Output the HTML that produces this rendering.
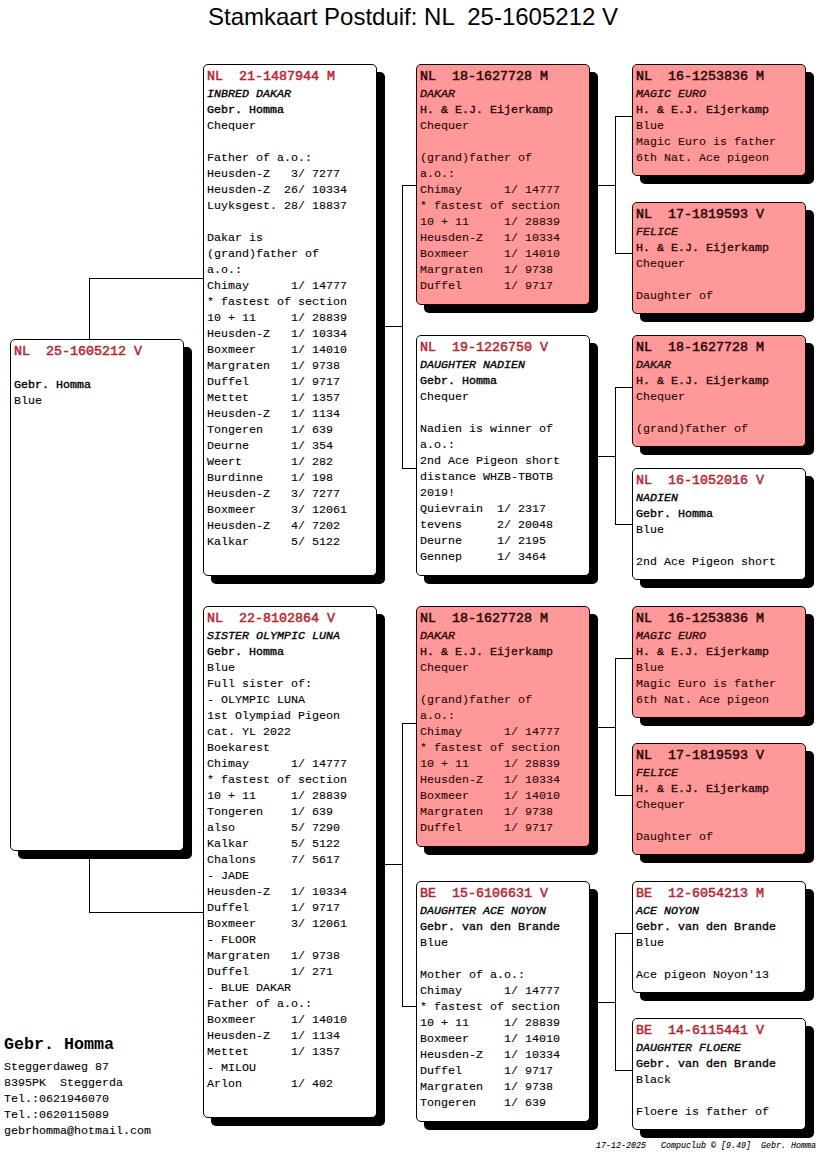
<!DOCTYPE html>
<html><head><meta charset="utf-8"><title>Stamkaart</title><style>
html,body{margin:0;padding:0;background:#fff;}
body{width:816px;height:1172px;position:relative;overflow:hidden;font-family:"Liberation Mono",monospace;color:#000;}
.t{position:absolute;left:208px;top:3px;font-family:"Liberation Sans",sans-serif;font-size:24px;line-height:normal;white-space:pre;}
.b{position:absolute;width:174px;box-sizing:border-box;border:1px solid #000;border-radius:5px;box-shadow:8px 8px 0 0 #000;background:#fff;padding:4px 0 0 3px;overflow:hidden;z-index:2;}
.b.p{background:#ff9999;}
.l{font-size:11.667px;line-height:16px;height:16px;white-space:pre;-webkit-text-stroke:0.1px currentColor;}
.l.r{font-size:13.333px;font-weight:normal;-webkit-text-stroke:0.4px currentColor;color:#b3262f;height:17px;line-height:16px;}
.p .l.r{color:#2a0606;-webkit-text-stroke:0.5px #2a0606;}
.b:not(.p) .l.r{-webkit-text-stroke:0.5px currentColor;}
.p{color:#2a0606;border-color:#1a0202 !important;}
.p .l.n,.p .l.k{-webkit-text-stroke-color:#2a0606;}
.l.n{font-style:italic;-webkit-text-stroke:0.35px #000;}
.l.k{-webkit-text-stroke:0.35px #000;}
.hl{position:absolute;height:1px;background:#000;z-index:1;}
.vl{position:absolute;width:1px;background:#000;z-index:1;}
.addr{position:absolute;left:4px;top:1035px;}
.addr .big{font-size:16.667px;font-weight:bold;line-height:20px;height:24px;}
.addr .l{}
.foot{position:absolute;left:596px;top:1140px;font-size:8.333px;font-style:italic;font-weight:normal;-webkit-text-stroke:0.1px #000;white-space:pre;line-height:12px;}
</style></head>
<body>
<div class="t">Stamkaart Postduif: NL  25-1605212 V</div>
<div class="vl" style="left:89px;top:278px;height:635px"></div>
<div class="hl" style="left:89px;top:278px;width:115px"></div>
<div class="hl" style="left:89px;top:912px;width:115px"></div>
<div class="hl" style="left:376px;top:326px;width:27px"></div>
<div class="vl" style="left:402px;top:185px;height:284px"></div>
<div class="hl" style="left:402px;top:185px;width:15px"></div>
<div class="hl" style="left:402px;top:468px;width:15px"></div>
<div class="hl" style="left:376px;top:864px;width:27px"></div>
<div class="vl" style="left:402px;top:723px;height:284px"></div>
<div class="hl" style="left:402px;top:723px;width:15px"></div>
<div class="hl" style="left:402px;top:1006px;width:15px"></div>
<div class="hl" style="left:589px;top:185px;width:27px"></div>
<div class="vl" style="left:615px;top:116px;height:138px"></div>
<div class="hl" style="left:615px;top:116px;width:18px"></div>
<div class="hl" style="left:615px;top:253px;width:18px"></div>
<div class="hl" style="left:589px;top:456px;width:27px"></div>
<div class="vl" style="left:615px;top:387px;height:138px"></div>
<div class="hl" style="left:615px;top:387px;width:18px"></div>
<div class="hl" style="left:615px;top:524px;width:18px"></div>
<div class="hl" style="left:589px;top:727px;width:27px"></div>
<div class="vl" style="left:615px;top:658px;height:138px"></div>
<div class="hl" style="left:615px;top:658px;width:18px"></div>
<div class="hl" style="left:615px;top:795px;width:18px"></div>
<div class="hl" style="left:589px;top:1002px;width:27px"></div>
<div class="vl" style="left:615px;top:933px;height:138px"></div>
<div class="hl" style="left:615px;top:933px;width:18px"></div>
<div class="hl" style="left:615px;top:1070px;width:18px"></div>
<div class="b" style="left:10px;top:339px;height:512px">
<div class="l r">NL&#160;&#160;25-1605212&#160;V</div>
<div class="l n">&#160;</div>
<div class="l k">Gebr.&#160;Homma</div>
<div class="l">Blue</div>
</div>
<div class="b" style="left:203px;top:64px;height:512px">
<div class="l r">NL&#160;&#160;21-1487944&#160;M</div>
<div class="l n">INBRED&#160;DAKAR</div>
<div class="l k">Gebr.&#160;Homma</div>
<div class="l">Chequer</div>
<div class="l">&#160;</div>
<div class="l">Father&#160;of&#160;a.o.:</div>
<div class="l">Heusden-Z&#160;&#160;&#160;3/&#160;7277</div>
<div class="l">Heusden-Z&#160;&#160;26/&#160;10334</div>
<div class="l">Luyksgest.&#160;28/&#160;18837</div>
<div class="l">&#160;</div>
<div class="l">Dakar&#160;is</div>
<div class="l">(grand)father&#160;of</div>
<div class="l">a.o.:</div>
<div class="l">Chimay&#160;&#160;&#160;&#160;&#160;&#160;1/&#160;14777</div>
<div class="l">*&#160;fastest&#160;of&#160;section</div>
<div class="l">10&#160;+&#160;11&#160;&#160;&#160;&#160;&#160;1/&#160;28839</div>
<div class="l">Heusden-Z&#160;&#160;&#160;1/&#160;10334</div>
<div class="l">Boxmeer&#160;&#160;&#160;&#160;&#160;1/&#160;14010</div>
<div class="l">Margraten&#160;&#160;&#160;1/&#160;9738</div>
<div class="l">Duffel&#160;&#160;&#160;&#160;&#160;&#160;1/&#160;9717</div>
<div class="l">Mettet&#160;&#160;&#160;&#160;&#160;&#160;1/&#160;1357</div>
<div class="l">Heusden-Z&#160;&#160;&#160;1/&#160;1134</div>
<div class="l">Tongeren&#160;&#160;&#160;&#160;1/&#160;639</div>
<div class="l">Deurne&#160;&#160;&#160;&#160;&#160;&#160;1/&#160;354</div>
<div class="l">Weert&#160;&#160;&#160;&#160;&#160;&#160;&#160;1/&#160;282</div>
<div class="l">Burdinne&#160;&#160;&#160;&#160;1/&#160;198</div>
<div class="l">Heusden-Z&#160;&#160;&#160;3/&#160;7277</div>
<div class="l">Boxmeer&#160;&#160;&#160;&#160;&#160;3/&#160;12061</div>
<div class="l">Heusden-Z&#160;&#160;&#160;4/&#160;7202</div>
<div class="l">Kalkar&#160;&#160;&#160;&#160;&#160;&#160;5/&#160;5122</div>
</div>
<div class="b" style="left:203px;top:606px;height:512px">
<div class="l r">NL&#160;&#160;22-8102864&#160;V</div>
<div class="l n">SISTER&#160;OLYMPIC&#160;LUNA</div>
<div class="l k">Gebr.&#160;Homma</div>
<div class="l">Blue</div>
<div class="l">Full&#160;sister&#160;of:</div>
<div class="l">-&#160;OLYMPIC&#160;LUNA</div>
<div class="l">1st&#160;Olympiad&#160;Pigeon</div>
<div class="l">cat.&#160;YL&#160;2022</div>
<div class="l">Boekarest</div>
<div class="l">Chimay&#160;&#160;&#160;&#160;&#160;&#160;1/&#160;14777</div>
<div class="l">*&#160;fastest&#160;of&#160;section</div>
<div class="l">10&#160;+&#160;11&#160;&#160;&#160;&#160;&#160;1/&#160;28839</div>
<div class="l">Tongeren&#160;&#160;&#160;&#160;1/&#160;639</div>
<div class="l">also&#160;&#160;&#160;&#160;&#160;&#160;&#160;&#160;5/&#160;7290</div>
<div class="l">Kalkar&#160;&#160;&#160;&#160;&#160;&#160;5/&#160;5122</div>
<div class="l">Chalons&#160;&#160;&#160;&#160;&#160;7/&#160;5617</div>
<div class="l">-&#160;JADE</div>
<div class="l">Heusden-Z&#160;&#160;&#160;1/&#160;10334</div>
<div class="l">Duffel&#160;&#160;&#160;&#160;&#160;&#160;1/&#160;9717</div>
<div class="l">Boxmeer&#160;&#160;&#160;&#160;&#160;3/&#160;12061</div>
<div class="l">-&#160;FLOOR</div>
<div class="l">Margraten&#160;&#160;&#160;1/&#160;9738</div>
<div class="l">Duffel&#160;&#160;&#160;&#160;&#160;&#160;1/&#160;271</div>
<div class="l">-&#160;BLUE&#160;DAKAR</div>
<div class="l">Father&#160;of&#160;a.o.:</div>
<div class="l">Boxmeer&#160;&#160;&#160;&#160;&#160;1/&#160;14010</div>
<div class="l">Heusden-Z&#160;&#160;&#160;1/&#160;1134</div>
<div class="l">Mettet&#160;&#160;&#160;&#160;&#160;&#160;1/&#160;1357</div>
<div class="l">-&#160;MILOU</div>
<div class="l">Arlon&#160;&#160;&#160;&#160;&#160;&#160;&#160;1/&#160;402</div>
</div>
<div class="b p" style="left:416px;top:64px;height:241px">
<div class="l r">NL&#160;&#160;18-1627728&#160;M</div>
<div class="l n">DAKAR</div>
<div class="l k">H.&#160;&amp;&#160;E.J.&#160;Eijerkamp</div>
<div class="l">Chequer</div>
<div class="l">&#160;</div>
<div class="l">(grand)father&#160;of</div>
<div class="l">a.o.:</div>
<div class="l">Chimay&#160;&#160;&#160;&#160;&#160;&#160;1/&#160;14777</div>
<div class="l">*&#160;fastest&#160;of&#160;section</div>
<div class="l">10&#160;+&#160;11&#160;&#160;&#160;&#160;&#160;1/&#160;28839</div>
<div class="l">Heusden-Z&#160;&#160;&#160;1/&#160;10334</div>
<div class="l">Boxmeer&#160;&#160;&#160;&#160;&#160;1/&#160;14010</div>
<div class="l">Margraten&#160;&#160;&#160;1/&#160;9738</div>
<div class="l">Duffel&#160;&#160;&#160;&#160;&#160;&#160;1/&#160;9717</div>
</div>
<div class="b" style="left:416px;top:335px;height:241px">
<div class="l r">NL&#160;&#160;19-1226750&#160;V</div>
<div class="l n">DAUGHTER&#160;NADIEN</div>
<div class="l k">Gebr.&#160;Homma</div>
<div class="l">Chequer</div>
<div class="l">&#160;</div>
<div class="l">Nadien&#160;is&#160;winner&#160;of</div>
<div class="l">a.o.:</div>
<div class="l">2nd&#160;Ace&#160;Pigeon&#160;short</div>
<div class="l">distance&#160;WHZB-TBOTB</div>
<div class="l">2019!</div>
<div class="l">Quievrain&#160;&#160;1/&#160;2317</div>
<div class="l">tevens&#160;&#160;&#160;&#160;&#160;2/&#160;20048</div>
<div class="l">Deurne&#160;&#160;&#160;&#160;&#160;1/&#160;2195</div>
<div class="l">Gennep&#160;&#160;&#160;&#160;&#160;1/&#160;3464</div>
</div>
<div class="b p" style="left:416px;top:606px;height:241px">
<div class="l r">NL&#160;&#160;18-1627728&#160;M</div>
<div class="l n">DAKAR</div>
<div class="l k">H.&#160;&amp;&#160;E.J.&#160;Eijerkamp</div>
<div class="l">Chequer</div>
<div class="l">&#160;</div>
<div class="l">(grand)father&#160;of</div>
<div class="l">a.o.:</div>
<div class="l">Chimay&#160;&#160;&#160;&#160;&#160;&#160;1/&#160;14777</div>
<div class="l">*&#160;fastest&#160;of&#160;section</div>
<div class="l">10&#160;+&#160;11&#160;&#160;&#160;&#160;&#160;1/&#160;28839</div>
<div class="l">Heusden-Z&#160;&#160;&#160;1/&#160;10334</div>
<div class="l">Boxmeer&#160;&#160;&#160;&#160;&#160;1/&#160;14010</div>
<div class="l">Margraten&#160;&#160;&#160;1/&#160;9738</div>
<div class="l">Duffel&#160;&#160;&#160;&#160;&#160;&#160;1/&#160;9717</div>
</div>
<div class="b" style="left:416px;top:881px;height:241px">
<div class="l r">BE&#160;&#160;15-6106631&#160;V</div>
<div class="l n">DAUGHTER&#160;ACE&#160;NOYON</div>
<div class="l k">Gebr.&#160;van&#160;den&#160;Brande</div>
<div class="l">Blue</div>
<div class="l">&#160;</div>
<div class="l">Mother&#160;of&#160;a.o.:</div>
<div class="l">Chimay&#160;&#160;&#160;&#160;&#160;&#160;1/&#160;14777</div>
<div class="l">*&#160;fastest&#160;of&#160;section</div>
<div class="l">10&#160;+&#160;11&#160;&#160;&#160;&#160;&#160;1/&#160;28839</div>
<div class="l">Boxmeer&#160;&#160;&#160;&#160;&#160;1/&#160;14010</div>
<div class="l">Heusden-Z&#160;&#160;&#160;1/&#160;10334</div>
<div class="l">Duffel&#160;&#160;&#160;&#160;&#160;&#160;1/&#160;9717</div>
<div class="l">Margraten&#160;&#160;&#160;1/&#160;9738</div>
<div class="l">Tongeren&#160;&#160;&#160;&#160;1/&#160;639</div>
</div>
<div class="b p" style="left:632px;top:64px;height:112px">
<div class="l r">NL&#160;&#160;16-1253836&#160;M</div>
<div class="l n">MAGIC&#160;EURO</div>
<div class="l k">H.&#160;&amp;&#160;E.J.&#160;Eijerkamp</div>
<div class="l">Blue</div>
<div class="l">Magic&#160;Euro&#160;is&#160;father</div>
<div class="l">6th&#160;Nat.&#160;Ace&#160;pigeon</div>
</div>
<div class="b p" style="left:632px;top:202px;height:112px">
<div class="l r">NL&#160;&#160;17-1819593&#160;V</div>
<div class="l n">FELICE</div>
<div class="l k">H.&#160;&amp;&#160;E.J.&#160;Eijerkamp</div>
<div class="l">Chequer</div>
<div class="l">&#160;</div>
<div class="l">Daughter&#160;of</div>
</div>
<div class="b p" style="left:632px;top:335px;height:112px">
<div class="l r">NL&#160;&#160;18-1627728&#160;M</div>
<div class="l n">DAKAR</div>
<div class="l k">H.&#160;&amp;&#160;E.J.&#160;Eijerkamp</div>
<div class="l">Chequer</div>
<div class="l">&#160;</div>
<div class="l">(grand)father&#160;of</div>
</div>
<div class="b" style="left:632px;top:468px;height:112px">
<div class="l r">NL&#160;&#160;16-1052016&#160;V</div>
<div class="l n">NADIEN</div>
<div class="l k">Gebr.&#160;Homma</div>
<div class="l">Blue</div>
<div class="l">&#160;</div>
<div class="l">2nd&#160;Ace&#160;Pigeon&#160;short</div>
</div>
<div class="b p" style="left:632px;top:606px;height:112px">
<div class="l r">NL&#160;&#160;16-1253836&#160;M</div>
<div class="l n">MAGIC&#160;EURO</div>
<div class="l k">H.&#160;&amp;&#160;E.J.&#160;Eijerkamp</div>
<div class="l">Blue</div>
<div class="l">Magic&#160;Euro&#160;is&#160;father</div>
<div class="l">6th&#160;Nat.&#160;Ace&#160;pigeon</div>
</div>
<div class="b p" style="left:632px;top:743px;height:112px">
<div class="l r">NL&#160;&#160;17-1819593&#160;V</div>
<div class="l n">FELICE</div>
<div class="l k">H.&#160;&amp;&#160;E.J.&#160;Eijerkamp</div>
<div class="l">Chequer</div>
<div class="l">&#160;</div>
<div class="l">Daughter&#160;of</div>
</div>
<div class="b" style="left:632px;top:881px;height:112px">
<div class="l r">BE&#160;&#160;12-6054213&#160;M</div>
<div class="l n">ACE&#160;NOYON</div>
<div class="l k">Gebr.&#160;van&#160;den&#160;Brande</div>
<div class="l">Blue</div>
<div class="l">&#160;</div>
<div class="l">Ace&#160;pigeon&#160;Noyon&#x27;13</div>
</div>
<div class="b" style="left:632px;top:1018px;height:112px">
<div class="l r">BE&#160;&#160;14-6115441&#160;V</div>
<div class="l n">DAUGHTER&#160;FLOERE</div>
<div class="l k">Gebr.&#160;van&#160;den&#160;Brande</div>
<div class="l">Black</div>
<div class="l">&#160;</div>
<div class="l">Floere&#160;is&#160;father&#160;of</div>
</div>
<div class="addr"><div class="big">Gebr. Homma</div><div class="l">Steggerdaweg 87</div><div class="l">8395PK  Steggerda</div><div class="l">Tel.:0621946070</div><div class="l">Tel.:0620115089</div><div class="l">gebrhomma@hotmail.com</div></div>
<div class="foot">17-12-2025   Compuclub © [9.49]  Gebr. Homma</div>
</body></html>
